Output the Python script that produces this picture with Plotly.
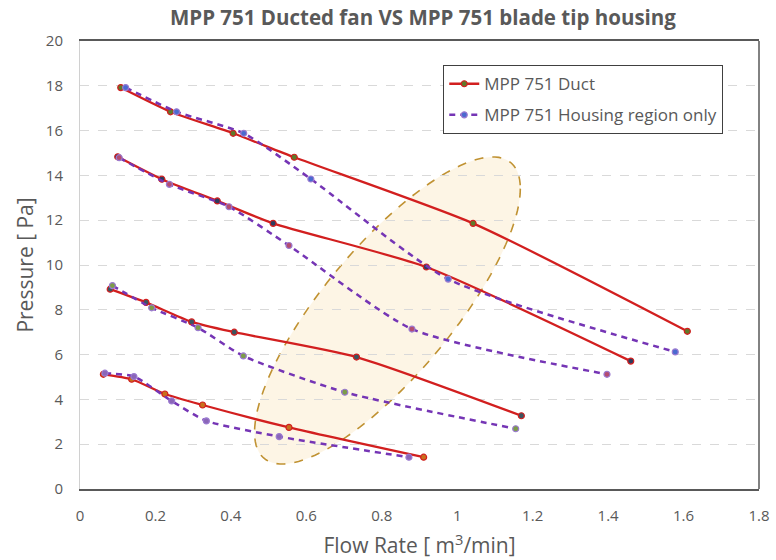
import numpy as np
import plotly.graph_objects as go

# Flow rate [m3/min] and pressure [Pa] for four fan speeds per configuration
duct_flow = [
    [0.108, 0.240, 0.406, 0.568, 1.042, 1.610],
    [0.100, 0.217, 0.364, 0.512, 0.918, 1.460],
    [0.080, 0.175, 0.296, 0.409, 0.733, 1.170],
    [0.062, 0.137, 0.225, 0.325, 0.554, 0.911],
]
duct_pressure = [
    [17.92, 16.84, 15.88, 14.81, 11.86, 7.04],
    [14.83, 13.83, 12.86, 11.86, 9.91, 5.71],
    [8.92, 8.33, 7.46, 7.00, 5.89, 3.27],
    [5.12, 4.90, 4.24, 3.75, 2.75, 1.42],
]
housing_flow = [
    [0.121, 0.256, 0.434, 0.612, 0.976, 1.578],
    [0.104, 0.237, 0.395, 0.554, 0.880, 1.397],
    [0.086, 0.190, 0.313, 0.433, 0.702, 1.155],
    [0.066, 0.143, 0.243, 0.335, 0.528, 0.872],
]
housing_pressure = [
    [17.92, 16.84, 15.88, 13.84, 9.37, 6.12],
    [14.79, 13.60, 12.60, 10.87, 7.14, 5.12],
    [9.08, 8.09, 7.20, 5.94, 4.32, 2.69],
    [5.17, 5.02, 3.93, 3.04, 2.34, 1.42],
]

duct_name = "MPP 751 Duct"
housing_name = "MPP 751 Housing region only"
duct_marker_colors = ["#5f7a2a", "#2e3c5e", "#3b5560", "#c8701c"]
housing_marker_colors = ["#4a6ad0", "#b44c70", "#7c9c48", "#8a66b8"]

RED = "#d21f1f"
PURPLE = "#7535b5"
GRAY = "#595959"

fig = go.Figure()

for i, (x, y) in enumerate(zip(duct_flow, duct_pressure)):
    fig.add_trace(go.Scatter(
        x=x, y=y, mode="lines+markers", name=duct_name,
        legendgroup="duct", showlegend=(i == 0),
        line=dict(color=RED, width=2.3, shape="spline", smoothing=0.6),
        marker=dict(size=6, color=duct_marker_colors[i],
                    line=dict(color=RED, width=1.2)),
    ))

for i, (x, y) in enumerate(zip(housing_flow, housing_pressure)):
    fig.add_trace(go.Scatter(
        x=x, y=y, mode="lines+markers", name=housing_name,
        legendgroup="housing", showlegend=(i == 0),
        line=dict(color=PURPLE, width=2.5, dash="6px,5px",
                  shape="spline", smoothing=0.6),
        marker=dict(size=6, color=housing_marker_colors[i],
                    line=dict(color="#9a7ad0", width=1.2)),
    ))

# Highlight region: tilted ellipse given by its centre and two
# conjugate semi-diameters in data units
ell_center = (0.815, 7.97)
ell_u = (0.3523, 5.44)
ell_v = (0.0, -4.17)
t = np.linspace(0, 2 * np.pi, 121)
ex = ell_center[0] + ell_u[0] * np.cos(t) + ell_v[0] * np.sin(t)
ey = ell_center[1] + ell_u[1] * np.cos(t) + ell_v[1] * np.sin(t)
path = "M " + " L ".join(f"{a:.4f},{b:.4f}" for a, b in zip(ex, ey)) + " Z"
fig.add_shape(type="path", path=path, xref="x", yref="y", layer="below",
              fillcolor="rgba(250,226,180,0.35)",
              line=dict(color="#c09232", width=1.6, dash="dash"))

# right edge of the plot frame
fig.add_shape(type="line", xref="paper", yref="paper", x0=1, x1=1, y0=0, y1=1,
              line=dict(color=GRAY, width=1.5))

fig.update_layout(
    width=776, height=560,
    margin=dict(l=80, r=17, t=41, b=71, autoexpand=False),
    paper_bgcolor="white", plot_bgcolor="white",
    font=dict(family="Open Sans", color=GRAY),
    title=dict(text="<b>MPP 751 Ducted fan VS MPP 751 blade tip housing</b>",
               x=0.545, xanchor="center", y=0.968, yanchor="middle",
               font=dict(size=20.5, color=GRAY, family="Open Sans")),
    legend=dict(x=0.535, xanchor="left", y=0.946, yanchor="top",
                bgcolor="white", bordercolor="#404040", borderwidth=1,
                font=dict(size=17, color=GRAY), tracegroupgap=6),
    showlegend=True,
)
fig.update_xaxes(
    range=[0, 1.8], dtick=0.2, tick0=0, showgrid=False, zeroline=False,
    showline=True, linecolor=GRAY, linewidth=1.5, mirror=True,
    automargin=False,
    ticks="", ticklabelstandoff=12, tickfont=dict(size=15, color=GRAY),
    title=dict(text="Flow Rate [ m<sup>3</sup>/min]", font=dict(size=21, color=GRAY),
               standoff=15),
)
fig.update_yaxes(
    range=[0, 20], dtick=2, tick0=0, showgrid=True, gridcolor="#d9d9d9",
    griddash="dash", gridwidth=1, zeroline=False,
    showline=True, linecolor="#d0d0d0", linewidth=1,
    automargin=False,
    ticks="", ticklabelstandoff=13, tickfont=dict(size=15, color=GRAY),
    title=dict(text="Pressure [ Pa]", font=dict(size=21, color=GRAY), standoff=6),
)

fig.write_html("out.html")
